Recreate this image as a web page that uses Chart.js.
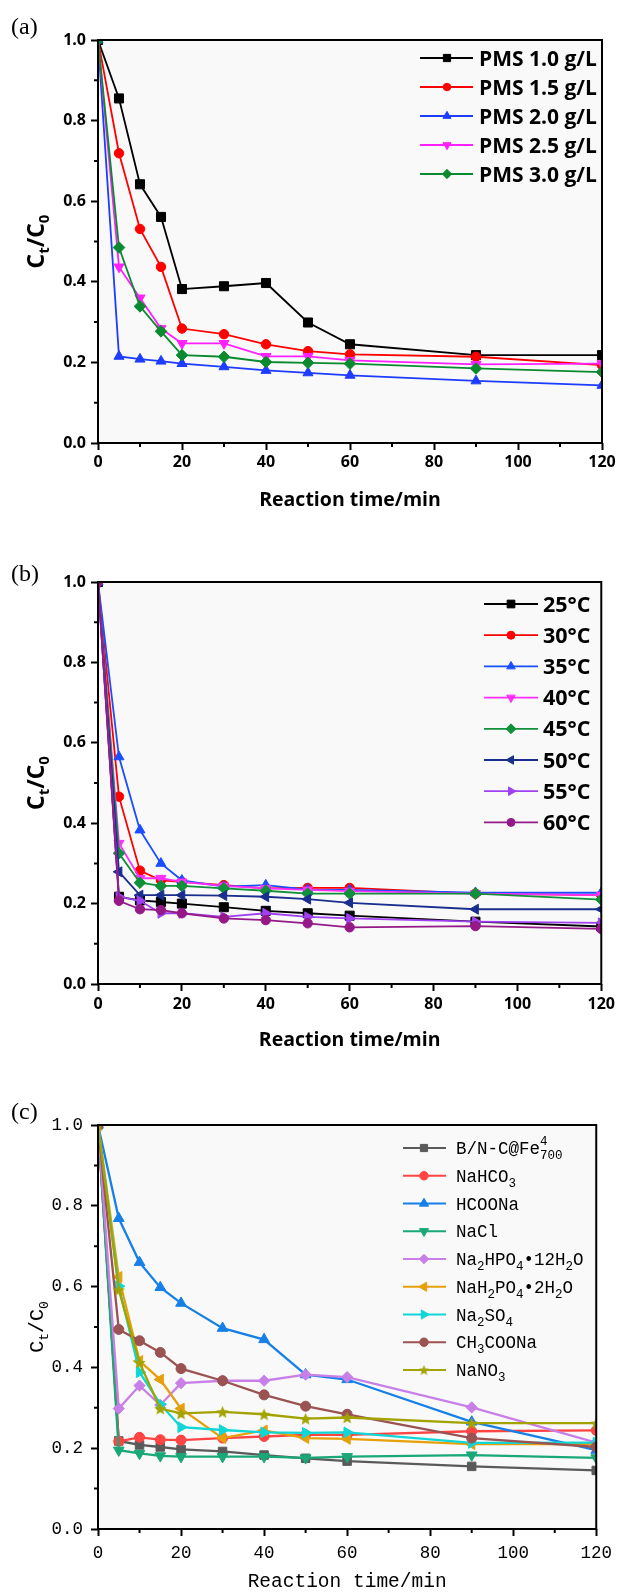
<!DOCTYPE html>
<html><head><meta charset="utf-8">
<script src="https://cdn.jsdelivr.net/npm/chart.js@4.4.1/dist/chart.umd.min.js"></script>
<style>
html,body{margin:0;padding:0;background:#fff;}
#wrap{position:relative;width:619px;height:1592px;overflow:hidden;}
canvas{position:absolute;left:0;}
</style></head><body>
<div id="wrap">
<canvas id="ca" width="619" height="530" style="top:0;width:619px;height:530px"></canvas>
<canvas id="cb" width="619" height="530" style="top:530px;width:619px;height:530px"></canvas>
<canvas id="cc" width="619" height="532" style="top:1060px;width:619px;height:532px"></canvas>
</div>
<script>
// ---------- DATA ----------
const times = [0, 5, 10, 15, 20, 30, 40, 50, 60, 90, 120];
const xTickValues = [0, 20, 40, 60, 80, 100, 120];
const xMinorValues = [10, 30, 50, 70, 90, 110];
const yTickValues = [0, 0.2, 0.4, 0.6, 0.8, 1.0];
const yMinorValues = [0.1, 0.3, 0.5, 0.7, 0.9];
const xTitle = 'Reaction time/min';
const yTitle = 'C_{t}/C_{0}';

// (a) PMS dosage
const pmsLabels = ['PMS 1.0 g/L', 'PMS 1.5 g/L', 'PMS 2.0 g/L', 'PMS 2.5 g/L', 'PMS 3.0 g/L'];
const pms10 = [1.0, 0.855, 0.642, 0.561, 0.382, 0.389, 0.397, 0.299, 0.245, 0.218, 0.218];
const pms15 = [1.0, 0.719, 0.531, 0.437, 0.284, 0.270, 0.245, 0.228, 0.220, 0.214, 0.193];
const pms20 = [1.0, 0.215, 0.208, 0.203, 0.197, 0.189, 0.180, 0.174, 0.168, 0.154, 0.143];
const pms25 = [1.0, 0.437, 0.360, 0.284, 0.247, 0.247, 0.215, 0.215, 0.205, 0.195, 0.197];
const pms30 = [1.0, 0.485, 0.339, 0.277, 0.218, 0.214, 0.201, 0.199, 0.197, 0.185, 0.176];

// (b) temperature
const tempLabels = ['25°C', '30°C', '35°C', '40°C', '45°C', '50°C', '55°C', '60°C'];
const t25 = [1.0, 0.217, 0.208, 0.204, 0.200, 0.191, 0.182, 0.176, 0.170, 0.155, 0.143];
const t30 = [1.0, 0.466, 0.282, 0.258, 0.254, 0.246, 0.238, 0.239, 0.239, 0.225, 0.221];
const t35 = [1.0, 0.565, 0.383, 0.300, 0.258, 0.242, 0.246, 0.235, 0.234, 0.227, 0.227];
const t40 = [1.0, 0.350, 0.263, 0.263, 0.254, 0.244, 0.238, 0.234, 0.231, 0.225, 0.221];
const t45 = [1.0, 0.325, 0.252, 0.244, 0.244, 0.238, 0.232, 0.225, 0.225, 0.225, 0.210];
const t50 = [1.0, 0.279, 0.221, 0.221, 0.221, 0.220, 0.217, 0.211, 0.202, 0.186, 0.186];
const t55 = [1.0, 0.217, 0.207, 0.176, 0.176, 0.167, 0.176, 0.167, 0.163, 0.155, 0.152];
const t60 = [1.0, 0.207, 0.186, 0.184, 0.176, 0.163, 0.159, 0.151, 0.141, 0.144, 0.137];

// (c) co-existing salts
const saltLabels = ['B/N-C@Fe^{4}_{700}', 'NaHCO_{3}', 'HCOONa', 'NaCl', 'Na_{2}HPO_{4}•12H_{2}O',
                    'NaH_{2}PO_{4}•2H_{2}O', 'Na_{2}SO_{4}', 'CH_{3}COONa', 'NaNO_{3}'];
const ctrl     = [1.0, 0.218, 0.208, 0.203, 0.197, 0.192, 0.183, 0.175, 0.168, 0.155, 0.145];
const nahco3   = [1.0, 0.217, 0.227, 0.221, 0.220, 0.225, 0.229, 0.233, 0.233, 0.242, 0.244];
const hcoona   = [1.0, 0.769, 0.660, 0.598, 0.559, 0.497, 0.469, 0.382, 0.370, 0.265, 0.195];
const nacl     = [1.0, 0.195, 0.187, 0.181, 0.179, 0.179, 0.179, 0.176, 0.179, 0.183, 0.176];
const na2hpo4  = [1.0, 0.298, 0.355, 0.307, 0.361, 0.367, 0.367, 0.382, 0.376, 0.301, 0.214];
const nah2po4  = [1.0, 0.624, 0.416, 0.370, 0.298, 0.225, 0.244, 0.225, 0.223, 0.210, 0.210];
const na2so4   = [1.0, 0.601, 0.388, 0.309, 0.252, 0.245, 0.239, 0.238, 0.239, 0.213, 0.214];
const ch3coona = [1.0, 0.494, 0.466, 0.437, 0.397, 0.367, 0.332, 0.304, 0.284, 0.225, 0.203];
const nano3    = [1.0, 0.592, 0.412, 0.298, 0.286, 0.290, 0.284, 0.273, 0.276, 0.262, 0.262];

// ---------- HELPERS ----------
function parseRich(s) {
  const parts = []; let i = 0; let buf = '';
  while (i < s.length) {
    const c = s[i];
    if ((c === '_' || c === '^') && s[i + 1] === '{') {
      if (buf) { parts.push({k: 'n', t: buf}); buf = ''; }
      const end = s.indexOf('}', i);
      const txt = s.slice(i + 2, end);
      i = end + 1;
      if (c === '^' && s[i] === '_' && s[i + 1] === '{') {
        const end2 = s.indexOf('}', i);
        parts.push({k: 's', sup: txt, sub: s.slice(i + 2, end2)});
        i = end2 + 1;
      } else parts.push({k: c === '_' ? 'b' : 'p', t: txt});
    } else { buf += c; i++; }
  }
  if (buf) parts.push({k: 'n', t: buf});
  return parts;
}
function richWidth(ctx, parts, f, sf) {
  let w = 0;
  for (const p of parts) {
    if (p.k === 'n') { ctx.font = f; w += ctx.measureText(p.t).width; }
    else if (p.k === 's') { ctx.font = sf; w += Math.max(ctx.measureText(p.sup).width, ctx.measureText(p.sub).width); }
    else { ctx.font = sf; w += ctx.measureText(p.t).width; }
  }
  return w;
}
function drawRich(ctx, str, x, y, f, sf, subDy, supDy, align) {
  const parts = parseRich(str);
  ctx.textBaseline = 'alphabetic'; ctx.textAlign = 'left';
  let cx = x;
  if (align === 'center') cx = x - richWidth(ctx, parts, f, sf) / 2;
  for (const p of parts) {
    if (p.k === 'n') { ctx.font = f; ctx.fillText(p.t, cx, y); cx += ctx.measureText(p.t).width; }
    else if (p.k === 'b') { ctx.font = sf; ctx.fillText(p.t, cx, y + subDy); cx += ctx.measureText(p.t).width; }
    else if (p.k === 'p') { ctx.font = sf; ctx.fillText(p.t, cx, y - supDy); cx += ctx.measureText(p.t).width; }
    else {
      ctx.font = sf;
      ctx.fillText(p.sup, cx, y - supDy); ctx.fillText(p.sub, cx, y + subDy);
      cx += Math.max(ctx.measureText(p.sup).width, ctx.measureText(p.sub).width);
    }
  }
}
function makeStar(color, size) {
  const c = document.createElement('canvas'); c.width = size; c.height = size;
  const g = c.getContext('2d'); g.fillStyle = color; g.beginPath();
  const R = size / 2, r = R * 0.45, cx = size / 2, cy = size / 2 + size * 0.05;
  for (let i = 0; i < 10; i++) {
    const a = -Math.PI / 2 + i * Math.PI / 5, rr = i % 2 ? r : R;
    g.lineTo(cx + rr * Math.cos(a), cy + rr * Math.sin(a));
  }
  g.closePath(); g.fill(); return c;
}
function drawMarker(ctx, m, x, y, r, color) {
  ctx.save(); ctx.fillStyle = color; ctx.strokeStyle = color; ctx.lineWidth = 1;
  if (m.img) { const im = m.legendImg || m.img; ctx.drawImage(im, x - im.width / 2, y - im.height / 2); ctx.restore(); return; }
  ctx.translate(x, y); ctx.rotate((m.rot || 0) * Math.PI / 180);
  ctx.beginPath();
  if (m.s === 'circle') ctx.arc(0, 0, r, 0, Math.PI * 2);
  else if (m.s === 'rect') { const h = r * Math.SQRT1_2; ctx.rect(-h, -h, 2 * h, 2 * h); }
  else if (m.s === 'rectRot') { ctx.moveTo(-r, 0); ctx.lineTo(0, -r); ctx.lineTo(r, 0); ctx.lineTo(0, r); ctx.closePath(); }
  else if (m.s === 'triangle') {
    for (let i = 0; i < 3; i++) { const a = i * 2 * Math.PI / 3; ctx.lineTo(Math.sin(a) * r, -Math.cos(a) * r); }
    ctx.closePath();
  }
  ctx.fill(); ctx.stroke(); ctx.restore();
}

const decor = {
  id: 'decor',
  beforeDraw(chart) {
    const {ctx, chartArea: a} = chart;
    ctx.save(); ctx.fillStyle = '#f9f9f9'; ctx.fillRect(a.left, a.top, a.right - a.left, a.bottom - a.top); ctx.restore();
  },
  afterDraw(chart) {
    const cfg = chart.options.plugins.decor;
    const {ctx, chartArea: a} = chart;
    const xs = chart.scales.x, ys = chart.scales.y;
    ctx.save();
    ctx.strokeStyle = '#000'; ctx.lineWidth = 2;
    ctx.strokeRect(a.left, a.top, a.right - a.left, a.bottom - a.top);
    ctx.beginPath();
    for (const v of xMinorValues) { const p = xs.getPixelForValue(v); ctx.moveTo(p, a.bottom); ctx.lineTo(p, a.bottom + 4); }
    for (const v of yMinorValues) { const p = ys.getPixelForValue(v); ctx.moveTo(a.left, p); ctx.lineTo(a.left - 4, p); }
    ctx.stroke();
    // panel label
    ctx.fillStyle = '#000'; ctx.font = '24px "Liberation Serif"'; ctx.textBaseline = 'middle'; ctx.textAlign = 'left';
    ctx.fillText(cfg.panel, 11, cfg.panelY);
    // y title
    ctx.save();
    ctx.translate(cfg.yTitleX, (a.top + a.bottom) / 2); ctx.rotate(-Math.PI / 2);
    drawRich(ctx, yTitle, 0, 0, cfg.yTitleFont, cfg.yTitleSub, cfg.yTitleSubDy, 0, 'center');
    ctx.restore();
    // legend
    const L = cfg.legend;
    cfg.labels.forEach((lab, i) => {
      const y = L.y0 + i * L.dy, col = cfg.colors[i];
      ctx.strokeStyle = col; ctx.lineWidth = L.lw;
      ctx.beginPath(); ctx.moveTo(L.x1, y); ctx.lineTo(L.x2, y); ctx.stroke();
      drawMarker(ctx, cfg.markers[i], L.mx, y, cfg.markers[i].r * L.ms, col);
      ctx.fillStyle = '#000';
      drawRich(ctx, lab, L.tx, y + L.base, L.font, L.subFont, L.subDy, L.supDy, 'left');
    });
    ctx.restore();
  }
};

function makeChart(id, series, cfg) {
  const datasets = series.map((vals, i) => {
    const m = cfg.markers[i];
    return {
      label: cfg.labels[i].replace(/[_^]\{([^}]*)\}/g, '$1'),
      data: times.map((t, j) => ({x: t, y: vals[j]})),
      borderColor: cfg.colors[i], backgroundColor: cfg.colors[i],
      pointBackgroundColor: cfg.colors[i], pointBorderColor: cfg.colors[i],
      pointStyle: m.img || m.s, pointRotation: m.rot || 0, pointRadius: m.r, pointBorderWidth: 1,
      borderWidth: cfg.lw, tension: 0, order: -i
    };
  });
  const tickFont = cfg.tickFont;
  const gridOpt = {drawOnChartArea: false, drawTicks: true, tickLength: 7, tickWidth: 2, tickColor: '#000', color: '#000'};
  return new Chart(document.getElementById(id), {
    type: 'line',
    data: {datasets},
    options: {
      responsive: false, animation: false, events: [],
      layout: {padding: {left: 0, right: 17, top: cfg.top, bottom: 0}},
      plugins: {legend: {display: false}, tooltip: {enabled: false}, decor: cfg},
      scales: {
        x: {
          type: 'linear', min: 0, max: 120,
          afterFit(s) { s.height = cfg.xh; },
          afterBuildTicks(s) { s.ticks = xTickValues.map(v => ({value: v})); },
          ticks: {font: tickFont, color: '#000', padding: cfg.xpad, maxRotation: 0, autoSkip: false, callback: v => String(v)},
          grid: gridOpt, border: {display: false},
          title: {display: true, text: xTitle, font: cfg.xTitleFont, color: '#000', padding: {top: 0, bottom: cfg.xTitlePadB}}
        },
        y: {
          type: 'linear', min: 0, max: 1,
          afterFit(s) { s.width = 98; },
          afterBuildTicks(s) { s.ticks = yTickValues.map(v => ({value: v})); },
          ticks: {font: tickFont, color: '#000', padding: cfg.ypad, autoSkip: false, callback: v => Number(v).toFixed(1)},
          grid: gridOpt, border: {display: false}
        }
      }
    },
    plugins: [decor]
  });
}

const boldFont = {family: 'Open Sans', size: 16, weight: 'bold'};
const monoFont = {family: 'Liberation Mono', size: 17.5, weight: 'normal'};

// (a)
makeChart('ca', [pms10, pms15, pms20, pms25, pms30], {
  panel: '(a)', panelY: 28, top: 40, xh: 87, xpad: 3, ypad: 5, lw: 1.8,
  tickFont: boldFont, xTitleFont: {family: 'Open Sans', size: 19.5, weight: 'bold', lineHeight: 1.2}, xTitlePadB: 18,
  yTitleX: 44, yTitleFont: 'bold 23px "Open Sans"', yTitleSub: 'bold 15px "Open Sans"', yTitleSubDy: 5,
  labels: pmsLabels,
  colors: ['#000000', '#ff0000', '#1e3cff', '#ff20ff', '#0a8a2e'],
  markers: [{s: 'rect', r: 6.4}, {s: 'circle', r: 4.7}, {s: 'triangle', r: 5.8}, {s: 'triangle', r: 5.8, rot: 180}, {s: 'rectRot', r: 5.8}],
  legend: {x1: 420, x2: 473, mx: 447, tx: 479, y0: 58, dy: 29, base: 7.5, lw: 1.8, ms: 0.8,
           font: 'bold 21px "Open Sans"', subFont: 'bold 14px "Open Sans"', subDy: 5, supDy: 8}
});

// (b)
makeChart('cb', [t25, t30, t35, t40, t45, t50, t55, t60], {
  panel: '(b)', panelY: 45, top: 52, xh: 76, xpad: 4, ypad: 5, lw: 1.8,
  tickFont: boldFont, xTitleFont: {family: 'Open Sans', size: 19.5, weight: 'bold', lineHeight: 1.2}, xTitlePadB: 8,
  yTitleX: 44, yTitleFont: 'bold 23px "Open Sans"', yTitleSub: 'bold 15px "Open Sans"', yTitleSubDy: 5,
  labels: tempLabels,
  colors: ['#000000', '#ff0000', '#1a4fff', '#ff30ff', '#10903a', '#1a2e8e', '#a040f0', '#951a88'],
  markers: [{s: 'rect', r: 6.4}, {s: 'circle', r: 4.7}, {s: 'triangle', r: 5.8}, {s: 'triangle', r: 5.8, rot: 180},
            {s: 'rectRot', r: 5.8}, {s: 'triangle', r: 5.8, rot: 270}, {s: 'triangle', r: 5.8, rot: 90}, {s: 'circle', r: 4.7}],
  legend: {x1: 484, x2: 538, mx: 511, tx: 543, y0: 74, dy: 31.2, base: 7.5, lw: 1.8, ms: 0.85,
           font: 'bold 21.5px "Open Sans"', subFont: 'bold 14px "Open Sans"', subDy: 5, supDy: 8}
});

// (c)
const starData = makeStar('#a3a300', 13);
const starLeg = makeStar('#a3a300', 11);
makeChart('cc', [ctrl, nahco3, hcoona, nacl, na2hpo4, nah2po4, na2so4, ch3coona, nano3], {
  panel: '(c)', panelY: 53, top: 65, xh: 63, xpad: 7, ypad: 8, lw: 2.3,
  tickFont: monoFont, xTitleFont: {family: 'Liberation Mono', size: 19.5, weight: 'normal', lineHeight: 1.0}, xTitlePadB: 0,
  yTitleX: 43, yTitleFont: '20px "Liberation Mono"', yTitleSub: '13px "Liberation Mono"', yTitleSubDy: 5,
  labels: saltLabels,
  colors: ['#5a5a5a', '#ff4444', '#1680e8', '#1aa878', '#c880e8', '#e6a00a', '#10d6d6', '#9a5252', '#a3a300'],
  markers: [{s: 'rect', r: 6}, {s: 'circle', r: 5}, {s: 'triangle', r: 6.2}, {s: 'triangle', r: 6.2, rot: 180},
            {s: 'rectRot', r: 5.6}, {s: 'triangle', r: 6.2, rot: 270}, {s: 'triangle', r: 6.2, rot: 90}, {s: 'circle', r: 5},
            {s: 'star', r: 6, img: starData, legendImg: starLeg}],
  legend: {x1: 403, x2: 446, mx: 424, tx: 456, y0: 88, dy: 27.75, base: 6, lw: 2, ms: 0.85,
           font: '17.5px "Liberation Mono"', subFont: '12.5px "Liberation Mono"', subDy: 5, supDy: 9}
});
</script>
</body></html>
